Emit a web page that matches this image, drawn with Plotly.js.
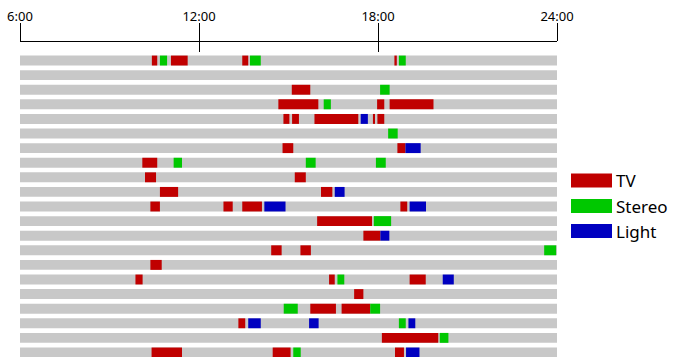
<!DOCTYPE html>
<html>
<head>
<meta charset="utf-8">
<script src="https://cdn.plot.ly/plotly-3.0.1.min.js"></script>
<style>html,body{margin:0;padding:0;background:#fff;}#chart{width:673px;height:357px;}</style>
</head>
<body>
<div id="chart"></div>
<script>
// Hours of day (decimal), rows numbered 1..21 from top
const rowCount = 21;
const dayStart = 6;
const dayEnd = 24;
const tickHours = [6, 12, 18, 24];
const tickLabels = ["6:00", "12:00", "18:00", "24:00"];

const deviceNames = ["TV", "Stereo", "Light"];
const deviceColors = ["#c00000", "#00c800", "#0000c0"];

const tvRow   = [1,1,1,1, 3, 4,4,4, 5,5,5,5,5, 7,7, 8, 9,9, 10,10, 11,11,11,11, 12, 13, 14,14, 15, 16,16,16, 17, 18,18, 19, 20, 21,21,21];
const tvStart = [10.42,11.06,13.45,18.55, 15.11, 14.66,17.97,18.39, 14.83,15.12,15.87,17.83,17.98, 14.80,18.65, 10.10, 10.19,15.21, 10.69,16.09, 10.37,12.82,13.45,18.75, 15.96, 17.51, 14.42,15.40, 10.37, 9.87,16.36,19.06, 17.20, 15.73,16.78, 13.32, 18.13, 10.41,14.47,18.57];
const tvEnd   = [10.60,11.62,13.65,18.63, 15.73, 16.00,18.21,19.86, 15.03,15.35,17.34,17.90,18.21, 15.16,18.92, 10.60, 10.56,15.58, 11.30,16.47, 10.69,13.13,14.11,18.98, 17.80, 18.08, 14.77,15.75, 10.75, 10.11,16.55,19.60, 17.51, 16.59,17.74, 13.55, 20.02, 11.43,15.07,18.87];

const stereoRow   = [1,1,1, 3, 4, 6, 8,8,8, 12, 14, 16, 18,18, 19, 20, 21];
const stereoStart = [10.69,13.71,18.70, 18.07, 16.18, 18.34, 11.15,15.58,17.93, 17.86, 23.57, 16.64, 14.84,17.74, 18.70, 20.07, 15.16];
const stereoEnd   = [10.93,14.07,18.93, 18.39, 16.42, 18.66, 11.43,15.91,18.26, 18.44, 23.97, 16.87, 15.31,18.07, 18.93, 20.36, 15.41];

const lightRow   = [5, 7, 10, 11,11, 13, 16, 19,19,19, 21];
const lightStart = [17.42, 18.92, 16.55, 14.19,19.06, 18.08, 20.17, 13.65,15.69,19.02, 18.94];
const lightEnd   = [17.66, 19.43, 16.88, 14.90,19.61, 18.38, 20.54, 14.07,16.01,19.25, 19.39];

const rows = Array.from({length: rowCount}, (_, i) => i + 1);
const barW = 0.68;

function segTrace(r, s, e, color, name) {
  return {
    type: 'bar', orientation: 'h',
    y: r, base: s, x: s.map((v, i) => e[i] - v),
    width: r.map(() => barW),
    marker: {color: color, line: {width: 0}},
    name: name, showlegend: false, hoverinfo: 'skip'
  };
}

const traces = [
  {
    type: 'bar', orientation: 'h',
    y: rows, base: rows.map(() => dayStart), x: rows.map(() => dayEnd - dayStart),
    width: rows.map(() => barW),
    marker: {color: '#c8c8c8', line: {width: 0}},
    showlegend: false, hoverinfo: 'skip'
  },
  segTrace(tvRow, tvStart, tvEnd, deviceColors[0], deviceNames[0]),
  segTrace(stereoRow, stereoStart, stereoEnd, deviceColors[1], deviceNames[1]),
  segTrace(lightRow, lightStart, lightEnd, deviceColors[2], deviceNames[2]),
  {type: 'scatter', x: [dayStart, dayEnd], y: [1, 1], xaxis: 'x2', mode: 'none', showlegend: false, hoverinfo: 'skip'}
];

// layout geometry (pixels)
const W = 673, H = 357, mL = 20, mR = 116, mT = 42, mB = 0;
const plotW = W - mL - mR, plotH = H - mT - mB;
const px = x => (x - mL) / plotW;
const py = y => 1 - (y - mT) / plotH;

const shapes = [], annotations = [];
const legendCenters = [180.5, 206, 231];
deviceNames.forEach((n, i) => {
  const c = legendCenters[i];
  shapes.push({type: 'rect', xref: 'paper', yref: 'paper', x0: px(571), x1: px(612), y0: py(c - 7), y1: py(c + 7),
    fillcolor: deviceColors[i], line: {width: 0}});
  annotations.push({xref: 'paper', yref: 'paper', x: px(614), y: py(c), xanchor: 'left', yanchor: 'middle',
    text: n, showarrow: false, font: {size: 17, color: '#000', family: 'Noto Sans, sans-serif'}});
});

const layout = {
  width: W, height: H,
  margin: {l: mL, r: mR, t: mT, b: mB, pad: 0},
  paper_bgcolor: '#fff', plot_bgcolor: '#fff',
  barmode: 'overlay',
  showlegend: false,
  font: {family: 'Noto Sans, sans-serif', color: '#000'},
  xaxis: {
    range: [dayStart, dayEnd], side: 'top', showgrid: false, zeroline: false,
    showline: true, linecolor: '#000', linewidth: 1,
    ticks: 'outside', ticklen: 18, tickwidth: 1, tickcolor: '#000',
    ticklabelstandoff: -3,
    tickvals: tickHours, ticktext: tickLabels, tickfont: {size: 13, color: '#000'}
  },
  xaxis2: {
    range: [dayStart, dayEnd], overlaying: 'x', side: 'top', showgrid: false, zeroline: false,
    showline: false, ticks: 'inside', ticklen: 10, tickwidth: 1, tickcolor: '#000',
    tickvals: tickHours, showticklabels: false
  },
  yaxis: {
    range: [21.31, -0.27], showgrid: false, zeroline: false, showline: false,
    showticklabels: false, ticks: ''
  },
  shapes: shapes,
  annotations: annotations
};

Plotly.newPlot('chart', traces, layout, {staticPlot: true, displayModeBar: false});
</script>
</body>
</html>
